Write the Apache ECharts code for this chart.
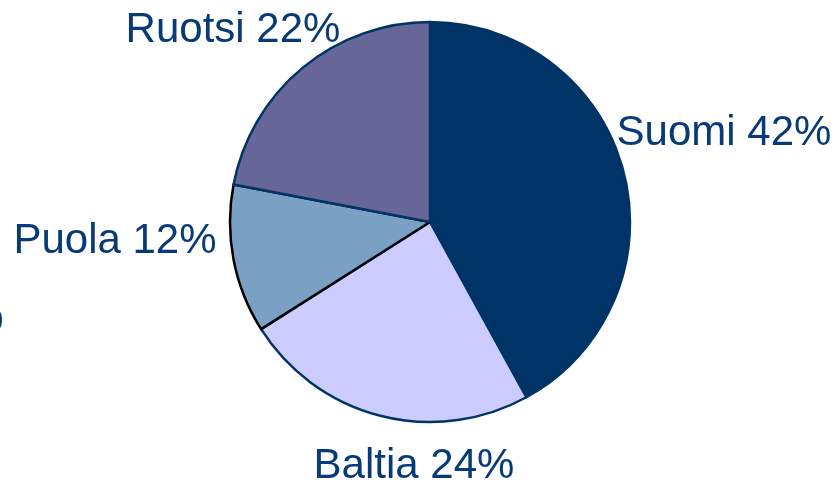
<!DOCTYPE html>
<html>
<head>
<meta charset="utf-8">
<script src="https://cdn.jsdelivr.net/npm/echarts@6/dist/echarts.min.js"></script>
<style>html,body{margin:0;padding:0;background:#fff;}#c{width:837px;height:484px;}</style>
</head>
<body>
<div id="c"></div>
<script>
var categories = ['Suomi', 'Baltia', 'Puola', 'Ruotsi'];
var values = [42, 24, 12, 22];
var sliceColors = ['#003366', '#ccccff', '#7aa0c4', '#666699'];
var borderColors = ['#003366', '#003366', '#000000', '#003366'];
var labelPos = [[724, 133], [414, 466], [115, 241], [233, 30]];

var chart = echarts.init(document.getElementById('c'), null, {renderer: 'canvas'});
chart.setOption({
  animation: false,
  backgroundColor: '#ffffff',
  graphic: [{
    type: 'text', left: -5, top: 307,
    style: {text: ')', font: '26px "Liberation Sans", Arial, sans-serif', fill: '#083a78'}
  }],
  series: [{
    type: 'pie',
    center: [430, 222],
    radius: [0, 200],
    startAngle: 90,
    clockwise: true,
    silent: true,
    data: categories.map(function (n, i) {
      return {
        name: n, value: values[i],
        itemStyle: {color: sliceColors[i], borderColor: borderColors[i], borderWidth: 2.5}
      };
    }),
    label: {
      show: true,
      formatter: '{b} {c}%',
      color: '#083a78',
      fontFamily: '"Liberation Sans", Arial, sans-serif',
      fontSize: 42,
      overflow: 'none',
      width: 400
    },
    labelLine: {show: false},
    labelLayout: function (p) {
      var pos = labelPos[p.dataIndex];
      return {x: pos[0], y: pos[1], align: 'center', verticalAlign: 'middle'};
    }
  }]
});
</script>
</body>
</html>
